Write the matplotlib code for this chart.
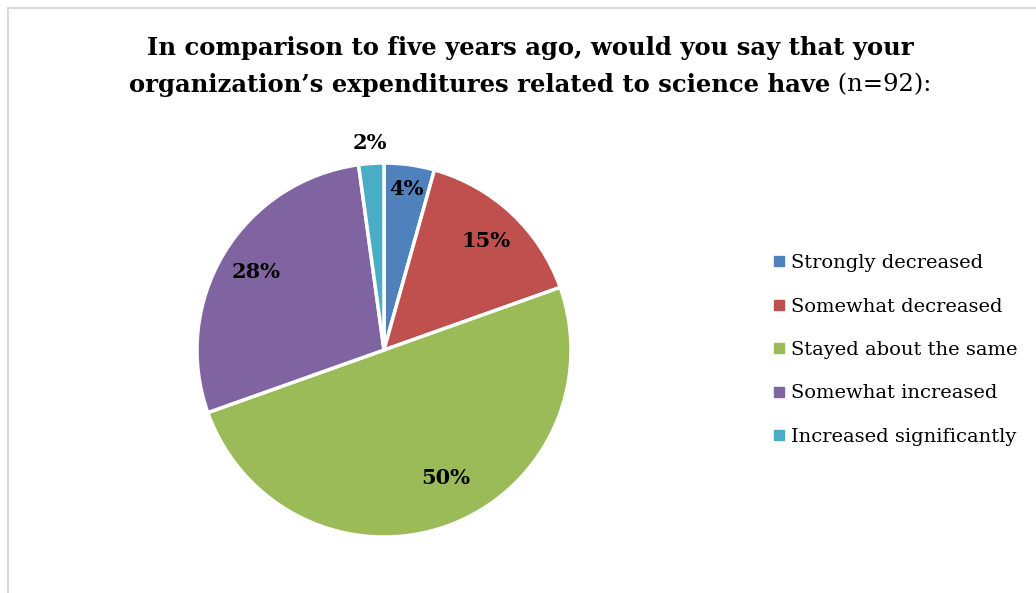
import matplotlib

matplotlib.use("Agg")
import matplotlib.pyplot as plt
from matplotlib.lines import Line2D
import numpy as np

plt.rcParams["font.family"] = ["DejaVu Serif"]

# responses out of n=92
categories = [
    "Strongly decreased",
    "Somewhat decreased",
    "Stayed about the same",
    "Somewhat increased",
    "Increased significantly",
]
counts = [4, 14, 46, 26, 2]
colors = ["#4F81BD", "#C0504D", "#9BBB59", "#8064A2", "#4BACC6"]
label_dist = [0.87, 0.80, 0.76, 0.80, 1.11]
label_shift = [0, 0, 6, 0, 0]  # degrees, nudges like Excel's best-fit

W, H = 1036, 593
fig = plt.figure(figsize=(W / 100, H / 100), dpi=100)

# light chart-area border (top and left visible)
fig.add_artist(Line2D([8 / W, 1], [1 - 8 / H, 1 - 8 / H], color="#D9D9D9", lw=1.5))
fig.add_artist(Line2D([8 / W, 8 / W], [0, 1 - 8 / H], color="#D9D9D9", lw=1.5))

# pie: centre (384, 350) px, radius 187 px
r = 187
ax = fig.add_axes([(384 - r) / W, (H - 350 - r) / H, 2 * r / W, 2 * r / H])
wedges, _ = ax.pie(
    counts,
    colors=colors,
    startangle=90,
    counterclock=False,
    wedgeprops=dict(edgecolor="white", linewidth=2.5),
)
ax.set_xlim(-1, 1)
ax.set_ylim(-1, 1)

total = sum(counts)
for w, c, d, s in zip(wedges, counts, label_dist, label_shift):
    mid = np.deg2rad((w.theta1 + w.theta2) / 2 + s)
    ax.text(
        d * np.cos(mid),
        d * np.sin(mid),
        f"{round(100 * c / total)}%",
        ha="center",
        va="center",
        fontsize=15,
        fontweight="bold",
    )

# title, bold except "(n=92):"
title_size = 17.5
fig.text(530 / W, 1 - 48 / H, "In comparison to five years ago, would you say that your",
         ha="center", va="center", fontsize=title_size, fontweight="bold")
t_bold = fig.text(0, 1 - 85 / H, "organization\u2019s expenditures related to science have",
                  ha="left", va="center", fontsize=title_size, fontweight="bold")
t_norm = fig.text(0, 1 - 85 / H, " (n=92):", ha="left", va="center", fontsize=title_size)
renderer = fig.canvas.get_renderer()
wb = t_bold.get_window_extent(renderer).width
wn = t_norm.get_window_extent(renderer).width
x0 = 530 - (wb + wn) / 2
t_bold.set_x(x0 / W)
t_norm.set_x((x0 + wb) / W)

handles = [
    Line2D([], [], marker="s", linestyle="none", markersize=7, color=c, markeredgecolor=c)
    for c in colors
]
fig.legend(
    handles,
    categories,
    loc="center left",
    bbox_to_anchor=(764 / W, 1 - 350 / H),
    frameon=False,
    fontsize=14,
    handlelength=0.5,
    handletextpad=0.4,
    labelspacing=1.31,
    borderpad=0,
)

fig.savefig("out.png", dpi=100)
